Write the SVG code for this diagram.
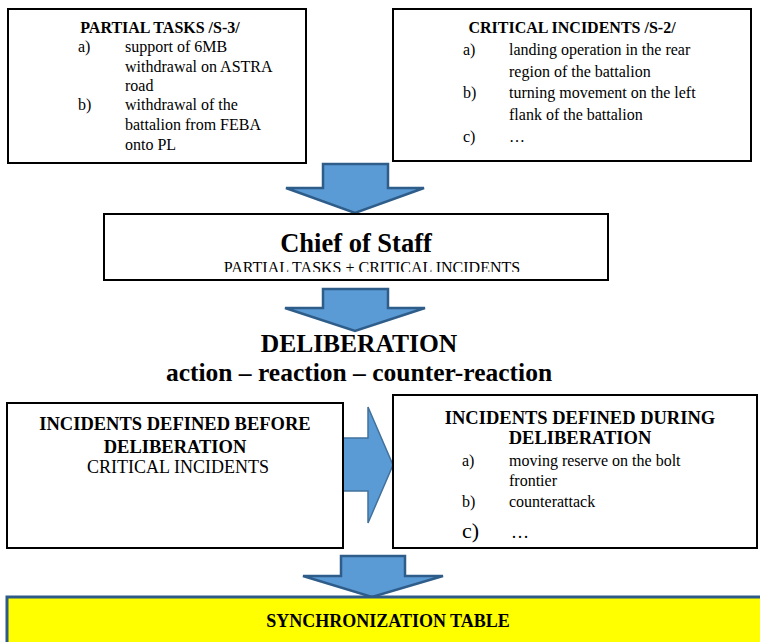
<svg xmlns="http://www.w3.org/2000/svg" width="760" height="642" viewBox="0 0 760 642" font-family="'Liberation Serif', 'Times New Roman', serif">
<style>
.box{fill:#fff;stroke:#000;stroke-width:2}
.arr{fill:#5b9bd5;stroke:#2f5d8a;stroke-width:2.5;stroke-linejoin:miter}
.arr2{fill:#5b9bd5;stroke:#41719c;stroke-width:1.5}
text{font-family:"Liberation Serif","Times New Roman",serif;fill:#000}
.h{font-weight:bold;font-size:16px}
.t{font-size:16px}
.hb{font-weight:bold;font-size:18.5px}
.big{font-weight:bold;font-family:"Liberation Serif",serif}
</style>
<defs>
<clipPath id="cc"><rect x="104" y="214" width="504" height="58"/></clipPath>
</defs>
<g id="connectors">
<path class="arr" d="M323,164 H388 V188 H424 L355,213 L286,188 H323 Z"/>
<path class="arr" d="M323,289 H388 V308 H425 L355,331 L285,308 H323 Z"/>
<path class="arr2" d="M343,438 H368 V407 L393,465 L368,523 V491 H343 Z"/>
<path class="arr" d="M341,556 H405 V576 H443 L372,597 L303,576 H341 Z"/>
</g>
<g id="partial-tasks">
<rect class="box" x="8" y="9" width="298" height="154"/>
<text class="h" x="160" y="33" text-anchor="middle">PARTIAL TASKS /S-3/</text>
<text class="t" x="78" y="52">a)</text>
<text class="t" x="125" y="52">support of 6MB</text>
<text class="t" x="125" y="72">withdrawal on ASTRA</text>
<text class="t" x="125" y="91">road</text>
<text class="t" x="78" y="110">b)</text>
<text class="t" x="125" y="110">withdrawal of the</text>
<text class="t" x="125" y="130">battalion from FEBA</text>
<text class="t" x="125" y="150">onto PL</text>
</g>
<g id="critical-incidents">
<rect class="box" x="393" y="9" width="358" height="152"/>
<text class="h" x="572" y="33" text-anchor="middle">CRITICAL INCIDENTS /S-2/</text>
<text class="t" x="463" y="55">a)</text>
<text class="t" x="509" y="55">landing operation in the rear</text>
<text class="t" x="509" y="77">region of the battalion</text>
<text class="t" x="463" y="98">b)</text>
<text class="t" x="509" y="98">turning movement on the left</text>
<text class="t" x="509" y="120">flank of the battalion</text>
<text class="t" x="463" y="142">c)</text>
<text class="t" x="509" y="142">…</text>
</g>
<g id="chief-of-staff">
<rect class="box" x="104" y="214" width="504" height="66"/>
<text class="big" x="356" y="252" text-anchor="middle" font-size="26.5">Chief of Staff</text>
<text x="372" y="273" text-anchor="middle" font-size="16" clip-path="url(#cc)">PARTIAL TASKS + CRITICAL INCIDENTS</text>
</g>
<g id="deliberation">
<text class="big" x="359" y="352" text-anchor="middle" font-size="25.5">DELIBERATION</text>
<text class="big" x="359" y="381" text-anchor="middle" font-size="25.5">action – reaction – counter-reaction</text>
</g>
<g id="before">
<rect class="box" x="7" y="403" width="336" height="145"/>
<text class="hb" x="175" y="430" text-anchor="middle">INCIDENTS DEFINED BEFORE</text>
<text class="hb" x="175" y="453" text-anchor="middle">DELIBERATION</text>
<text x="178" y="473" text-anchor="middle" font-size="18">CRITICAL INCIDENTS</text>
</g>
<g id="during">
<rect class="box" x="393" y="395" width="364" height="153"/>
<text class="hb" x="580" y="424" text-anchor="middle">INCIDENTS DEFINED DURING</text>
<text class="hb" x="580" y="444" text-anchor="middle">DELIBERATION</text>
<text class="t" x="462" y="466">a)</text>
<text class="t" x="509" y="466">moving reserve on the bolt</text>
<text class="t" x="509" y="486">frontier</text>
<text class="t" x="462" y="507">b)</text>
<text class="t" x="509" y="507">counterattack</text>
<text x="462" y="538" font-size="22">c)</text>
<text x="511" y="538" font-size="18">…</text>
</g>
<g id="sync-table">
<rect x="7" y="597" width="760" height="60" fill="#ffff00" stroke="#2e5a87" stroke-width="3"/>
<text class="big" x="388" y="627" text-anchor="middle" font-size="18">SYNCHRONIZATION TABLE</text>
</g>
</svg>
